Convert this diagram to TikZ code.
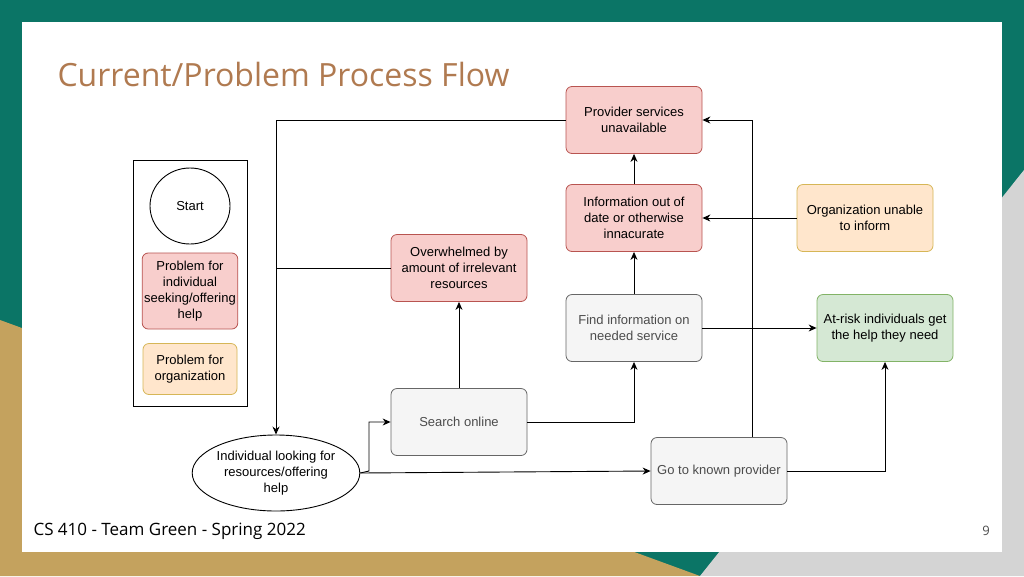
\documentclass[tikz,border=0pt]{standalone}
\usepackage{fontspec}
\setmainfont{Liberation Sans}
\newfontfamily\opensans{Open Sans}
\usetikzlibrary{arrows.meta,shapes.geometric}
\definecolor{teal1}{HTML}{0B7566}
\definecolor{gold1}{HTML}{C4A25E}
\definecolor{gray1}{HTML}{D4D4D4}
\definecolor{titlec}{HTML}{B07A50}
\definecolor{redf}{HTML}{F8CECC}\definecolor{redd}{HTML}{B85450}
\definecolor{orf}{HTML}{FFE6CC}\definecolor{ord}{HTML}{D6B656}
\definecolor{grf}{HTML}{F5F5F5}\definecolor{grd}{HTML}{666666}
\definecolor{gnf}{HTML}{D5E8D4}\definecolor{gnd}{HTML}{82B366}
\begin{document}
\begin{tikzpicture}[x=1pt,y=-1pt,
 box/.style={rounded corners=6pt,minimum width=136pt,minimum height=67pt,align=center,font=\fontsize{13}{16}\selectfont,line width=0.8pt,inner sep=2pt},
 red/.style={box,fill=redf,draw=redd},
 org/.style={box,fill=orf,draw=ord},
 gry/.style={box,fill=grf,draw=grd,text=black!70},
 grn/.style={box,fill=gnf,draw=gnd},
 arr/.style={line width=0.9pt,-{Stealth[length=8pt,width=7pt]}},
 ln/.style={line width=0.9pt}]
\useasboundingbox (0,0) rectangle (1024,576);
\fill[teal1] (0,0) rectangle (1024,576);
\fill[gray1] (1024,170) -- (1024,576) -- (700,576) -- cycle;
\fill[gold1] (0,320) -- (700,576) -- (0,576) -- cycle;
\fill[white] (22,22) rectangle (1002,552);
\node[anchor=west,text=titlec,font=\opensans\fontsize{32}{36}\selectfont] (title) at (54,74) {Current/Problem Process Flow};
\node[anchor=west,font=\opensans\fontsize{17}{20}\selectfont] (foot) at (30,531) {CS 410 - Team Green - Spring 2022};
\node[font=\opensans\fontsize{13}{15}\selectfont,text=black!70] (pg) at (986,531) {9};
% legend
\node[draw,line width=0.9pt,minimum width=114pt,minimum height=246pt] (leg) at (190,283) {};
\node[ellipse,draw,line width=0.9pt,minimum width=80pt,minimum height=76pt,font=\fontsize{13}{16}\selectfont] (start) at (190,206) {Start};
\node[red,minimum width=94pt,minimum height=76pt] (lred) at (190,291) {Problem for\\individual\\seeking/offering\\help};
\node[org,minimum width=94pt,minimum height=51pt] (lorg) at (190,369) {Problem for\\organization};
% nodes
\node[red] (prov) at (634,120) {Provider services\\unavailable};
\node[red] (info) at (634,218) {Information out of\\date or otherwise\\innacurate};
\node[org] (orgu) at (865,218) {Organization unable\\to inform};
\node[red] (over) at (459,268) {Overwhelmed by\\amount of irrelevant\\resources};
\node[gry] (find) at (634,328) {Find information on\\needed service};
\node[grn] (risk) at (885,328) {At-risk individuals get\\the help they need};
\node[gry] (srch) at (459,422) {Search online};
\node[gry] (go) at (719,471) {Go to known provider};
\node[ellipse,draw,line width=0.9pt,minimum width=138pt,minimum height=76pt,inner sep=0pt,align=center,font=\fontsize{13}{16}\selectfont] (indiv) at (276,473) {Individual looking for\\resources/offering\\help};
\coordinate (c1) at (276,120);
\coordinate (c2) at (276,268);
\coordinate (c3) at (369,471);
\coordinate (c4) at (369,422);
\coordinate (c5) at (634,422);
\coordinate (c6) at (885,471);
\coordinate (c7) at (752,120);
% edges
\draw[arr] (prov.west) -- (c1) -- (indiv.north);
\draw[ln] (over.west) -- (c2);
\draw[arr] (srch) -- (over);
\draw[arr] (indiv.east) -- (c3) -- (c4) -- (srch.west);
\draw[arr] (indiv.east) -- (go.west);
\draw[arr] (srch.east) -- (c5) -- (find.south);
\draw[arr] (find) -- (info);
\draw[arr] (info) -- (prov);
\draw[arr] (orgu) -- (info);
\draw[arr] (find) -- (risk);
\draw[arr] (go.east) -- (c6) -- (risk.south);
\draw[arr] (go.north -| c7) -- (c7) -- (prov.east);
\end{tikzpicture}
\end{document}
